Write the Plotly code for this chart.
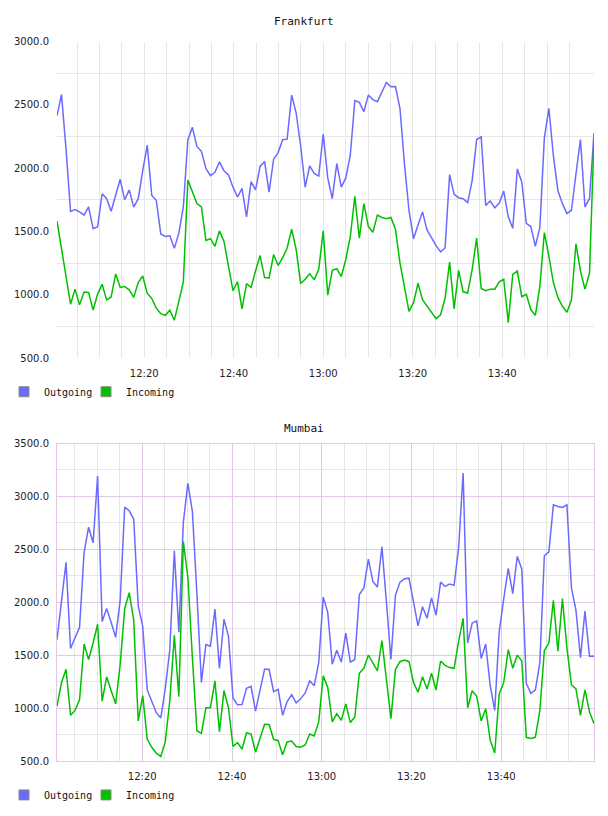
import pandas as pd
import plotly.graph_objects as go

# ---------------- data ----------------
DAY = "2013-05-14"
top_start, top_end = f"{DAY} 12:00:30", f"{DAY} 14:00:30"
bot_start, bot_end = f"{DAY} 12:01:00", f"{DAY} 14:00:40"

frankfurt_outgoing = [
    2413, 2582, 2150, 1658, 1673, 1655, 1630, 1694, 1523, 1538,
    1798, 1759, 1660, 1785, 1912, 1751, 1829, 1692, 1759, 1980,
    2182, 1785, 1746, 1481, 1461, 1466, 1367, 1487, 1694, 2226,
    2322, 2172, 2133, 1998, 1941, 1967, 2050, 1980, 1946, 1850,
    1772, 1840, 1616, 1894, 1829, 2014, 2053, 1811, 2071, 2123,
    2224, 2229, 2577, 2434, 2175, 1850, 2019, 1959, 1938,
    2270, 1923, 1759, 2037, 1850, 1923, 2104, 2533, 2520, 2447,
    2577, 2541, 2525, 2598, 2676, 2642, 2644, 2473, 2032, 1668,
    1442, 1551, 1655, 1513, 1448, 1388, 1339, 1370, 1949, 1793,
    1767, 1759, 1728, 1902, 2226, 2247, 1705, 1741, 1687, 1725,
    1819, 1616, 1525, 1993, 1889, 1564, 1539, 1383, 1533, 2239,
    2473, 2097, 1824, 1720, 1642, 1668, 1954, 2226, 1694, 1759,
    2278,
]
frankfurt_incoming = [
    1583, 1357, 1136, 926, 1045, 921, 1022, 1019, 879, 1006,
    1084, 960, 983, 1165, 1058, 1066, 1040, 980, 1097, 1149,
    1011, 972, 895, 851, 838, 879, 799, 955, 1102, 1907,
    1811, 1720, 1694, 1430, 1443, 1383, 1505, 1422, 1227, 1032,
    1105, 889, 1089, 1058, 1188, 1310, 1136, 1133, 1318, 1232,
    1292, 1370, 1518, 1357, 1089, 1123, 1167, 1118, 1201,
    1505, 998, 1193, 1206, 1144, 1279, 1461, 1777, 1448, 1720,
    1539, 1494, 1629, 1611, 1601, 1611, 1518, 1253, 1058, 869,
    936, 1092, 962, 910, 858, 812, 843, 973, 1258, 889,
    1193, 1024, 1014, 1201, 1448, 1050, 1032, 1045, 1045, 1102,
    1123, 780, 1162, 1188, 985, 1004, 884, 838, 1066, 1492,
    1305, 1097, 980, 910, 863, 959, 1403, 1188, 1045, 1170,
    2239,
]
mumbai_outgoing = [
    1648, 2006, 2378, 1565, 1664, 1766, 2471, 2710, 2564, 3194,
    1819, 1943, 1813, 1670, 2021, 2899, 2865, 2788, 1968, 1773,
    1174, 1074, 959, 910, 1189, 1555, 2487, 1720, 2757, 3123,
    2859, 2083, 1245, 1602, 1586, 1937, 1378, 1841, 1680, 1099,
    1034, 1037, 1189, 1208, 975, 1174, 1369, 1369, 1158, 1180,
    935, 1065, 1130, 1052, 1090, 1146, 1260, 1214, 1431,
    2050, 1906, 1416, 1549, 1437, 1710, 1437, 1462, 2074, 2136,
    2409, 2198, 2145, 2524, 2005, 1462, 2068, 2192, 2223, 2229,
    2005, 1779, 1959, 1850, 2043, 1881, 2192, 2151, 2173, 2161,
    2518, 3222, 1617, 1804, 1825, 1471, 1608, 1214, 981, 1726,
    2036, 2322, 2083, 2434, 2316, 1236, 1142, 1173, 1431, 2440,
    2477, 2921, 2906, 2896, 2921, 2136, 1928, 1478, 1919, 1493,
    1493,
]
mumbai_incoming = [
    1021, 1245, 1369, 935, 981, 1084, 1608, 1462, 1617, 1794,
    1068, 1298, 1167, 1043, 1416, 1943, 2092, 1835, 882, 1121,
    708, 633, 578, 546, 686, 1074, 1689, 1111, 2574, 2238,
    1478, 789, 764, 1006, 1006, 1260, 779, 1167, 1006, 640,
    677, 615, 770, 758, 587, 727, 851, 848, 708, 695,
    562, 683, 692, 640, 633, 655, 758, 739, 872,
    1307, 1198, 872, 950, 888, 1043, 866, 919, 1332, 1378,
    1503, 1431, 1354, 1639, 1276, 904, 1369, 1441, 1456, 1441,
    1245, 1152, 1298, 1183, 1332, 1174, 1447, 1406, 1385, 1378,
    1633, 1850, 1006, 1167, 1115, 882, 997, 702, 578, 1136,
    1245, 1555, 1378, 1503, 1447, 727, 717, 727, 981, 1546,
    1617, 2021, 1540, 2036, 1571, 1223, 1183, 935, 1174, 966,
    857,
]

time_tick_labels = ["12:20", "12:40", "13:00", "13:20", "13:40"]
minor_time_labels = ["12:05", "12:10", "12:15", "12:25", "12:30", "12:35",
                     "12:45", "12:50", "12:55", "13:05", "13:10", "13:15",
                     "13:25", "13:30", "13:35", "13:45", "13:50", "13:55"]
frankfurt_y_ticks = [500, 1000, 1500, 2000, 2500, 3000]
frankfurt_y_minor = [750, 1250, 1750, 2250, 2750]
mumbai_y_ticks = [500, 1000, 1500, 2000, 2500, 3000, 3500]
mumbai_y_minor = [750, 1250, 1750, 2250, 2750, 3250]

series_names = ["Outgoing", "Incoming"]
colors = ["#6a6aff", "#00c000"]

# ---------------- build ----------------
t_top = pd.date_range(top_start, top_end, periods=len(frankfurt_outgoing))
t_bot = pd.date_range(bot_start, bot_end, periods=len(mumbai_outgoing))
maj_t = [f"{DAY} {s}" for s in time_tick_labels]
min_t = [f"{DAY} {s}" for s in minor_time_labels]

W, H = 608, 816
PL, PR = 57, 594
TOP_T, TOP_B = 37, 358
BOT_T, BOT_B = 444.5, 766.7


def py(p):
    return 1 - p / H


tick_font = dict(family="DejaVu Sans", size=10, color="#222")
mono = "DejaVu Sans Mono"
GRAY = "#e6e6e6"
PINK = "#e2c8e6"

fig = go.Figure()


def add_pair(t, out_vals, in_vals, xa, ya, legends, tag):
    for name, vals, col, lg in zip(series_names, [out_vals, in_vals], colors, legends):
        fig.add_trace(go.Scatter(
            x=t, y=vals, mode="lines", name=name,
            line=dict(color=col, width=1.5),
            xaxis=xa, yaxis=ya, showlegend=False,
            legendgroup=tag + name, legend=lg))
        fig.add_trace(go.Scatter(
            x=[None], y=[None], mode="markers", name=name,
            marker=dict(symbol="square", size=10, color=col,
                        line=dict(color="#8a8a8a", width=1)),
            xaxis=xa, yaxis=ya, showlegend=True,
            legendgroup=tag + name, legend=lg))


add_pair(t_top, frankfurt_outgoing, frankfurt_incoming, "x", "y",
         ["legend", "legend2"], "f")
add_pair(t_bot, mumbai_outgoing, mumbai_incoming, "x2", "y2",
         ["legend3", "legend4"], "m")

xdom = [PL / W, PR / W]
common_x = dict(type="date", tickmode="array", tickvals=maj_t,
                ticktext=time_tick_labels, tickfont=tick_font,
                ticks="outside", ticklen=6, tickcolor="rgba(0,0,0,0)",
                zeroline=False, domain=xdom)
common_y = dict(tickmode="array", tickformat=".1f", tickfont=tick_font,
                ticks="outside", ticklen=5, tickcolor="rgba(0,0,0,0)",
                zeroline=False)
legend_common = dict(orientation="h", xanchor="left", yanchor="middle",
                     font=dict(family=mono, size=10, color="#111"),
                     bgcolor="rgba(0,0,0,0)")
LEG_X = [4, 86]

fig.update_layout(
    width=W, height=H,
    margin=dict(l=0, r=0, t=0, b=0),
    paper_bgcolor="white", plot_bgcolor="white",
    xaxis=dict(**common_x, range=[top_start, top_end], anchor="y",
               showgrid=True, gridcolor=GRAY, showline=False,
               minor=dict(tickmode="array", tickvals=min_t, showgrid=True,
                          gridcolor=GRAY)),
    yaxis=dict(**common_y, range=[500, 3000], tickvals=frankfurt_y_ticks,
               domain=[py(TOP_B), py(TOP_T)], anchor="x",
               showgrid=False, showline=False,
               minor=dict(tickmode="array", tickvals=frankfurt_y_minor,
                          showgrid=True, gridcolor=GRAY)),
    xaxis2=dict(**common_x, range=[bot_start, bot_end], anchor="y2",
                showgrid=True, gridcolor=PINK, showline=True, mirror=True,
                linecolor=PINK, linewidth=1,
                minor=dict(tickmode="array", tickvals=min_t, showgrid=True,
                           gridcolor=GRAY)),
    yaxis2=dict(**common_y, range=[500, 3500], tickvals=mumbai_y_ticks,
                domain=[py(BOT_B), py(BOT_T)], anchor="x2",
                showgrid=True, gridcolor=PINK, showline=True, mirror=True,
                linecolor=PINK, linewidth=1,
                minor=dict(tickmode="array", tickvals=mumbai_y_minor,
                           showgrid=True, gridcolor=GRAY)),
    legend=dict(**legend_common, x=LEG_X[0] / W, y=py(392)),
    legend2=dict(**legend_common, x=LEG_X[1] / W, y=py(392)),
    legend3=dict(**legend_common, x=LEG_X[0] / W, y=py(800.7)),
    legend4=dict(**legend_common, x=LEG_X[1] / W, y=py(800.7)),
    annotations=[
        dict(text="Frankfurt", x=304 / W, y=py(17), xref="paper", yref="paper",
             showarrow=False, xanchor="center", yanchor="middle",
             font=dict(family=mono, size=11, color="#111")),
        dict(text="Mumbai", x=304 / W, y=py(429), xref="paper", yref="paper",
             showarrow=False, xanchor="center", yanchor="middle",
             font=dict(family=mono, size=11, color="#111")),
    ],
)

fig.write_html("out.html")
